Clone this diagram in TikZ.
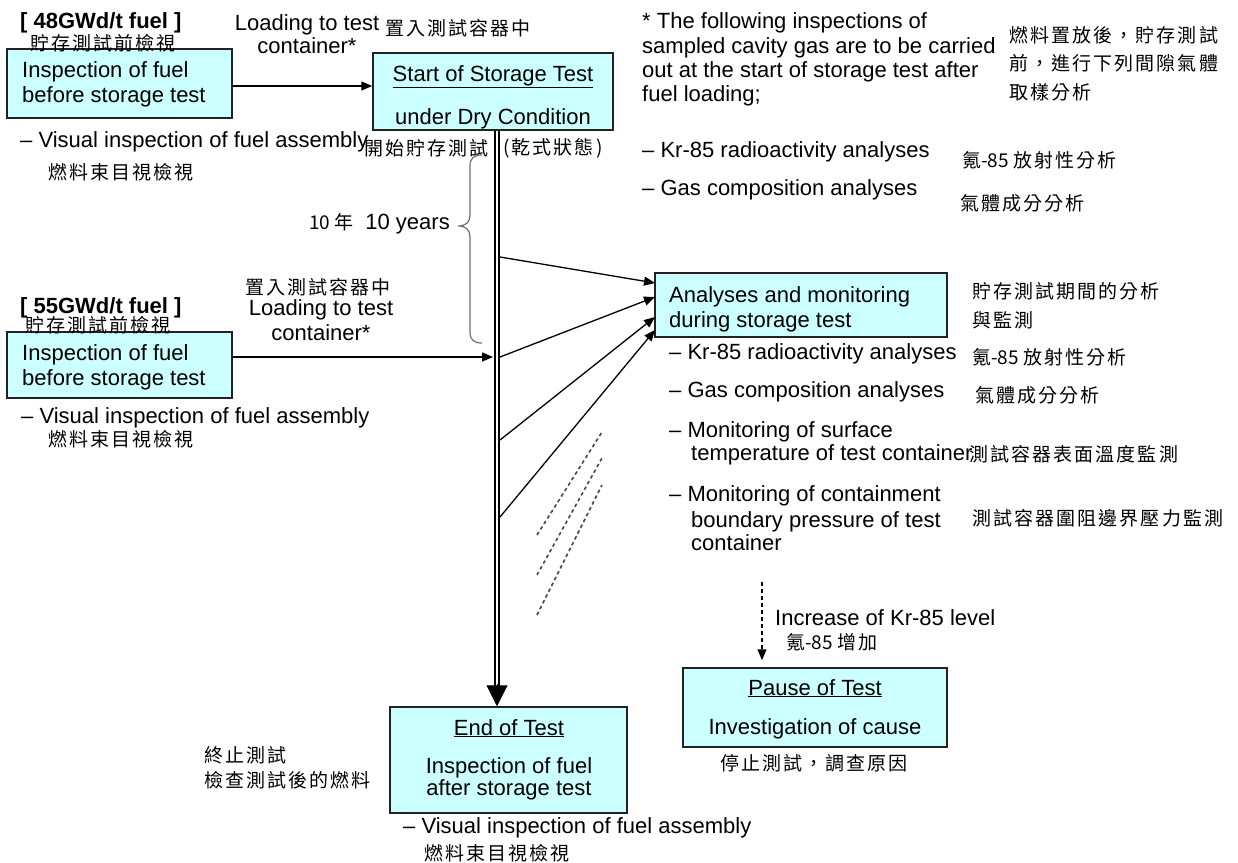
\documentclass[tikz,border=0pt]{standalone}
\usepackage{fontspec}
\setmainfont{Liberation Sans}
\newfontfamily\cjk[LetterSpace=11]{Noto Sans CJK TC}
\newfontfamily\cjkn{Noto Sans CJK TC}
\usetikzlibrary{arrows.meta}
\definecolor{boxfill}{HTML}{CCFFFF}
\definecolor{boxline}{HTML}{222222}
\definecolor{bracegray}{HTML}{707070}
\definecolor{hatchgray}{HTML}{4A4A4A}
\tikzset{
  en/.style={inner sep=0pt, font=\fontsize{22}{25}\selectfont, anchor=base west},
  enc/.style={inner sep=0pt, font=\fontsize{22}{25}\selectfont, anchor=base},
  enb/.style={inner sep=0pt, font=\fontsize{22}{25}\selectfont\bfseries, anchor=base west},
  zh/.style={inner sep=0pt, font=\fontsize{19}{28.5}\selectfont\cjk, anchor=west, align=left},
  flowbox/.style={draw=boxline, line width=1.5pt, fill=boxfill, inner sep=0pt},
  link/.style={line width=1.3pt, -{Triangle[width=9pt,length=11pt]}},
  hatch/.style={hatchgray, line width=1.6pt, dash pattern=on 3.5pt off 3pt},
}
\begin{document}
\begin{tikzpicture}[x=1pt, y=-1pt]
\fill[white] (0,0) rectangle (1238,862);
\useasboundingbox (0,0) rectangle (1238,862);

% ---- boxes ----
\node[flowbox, minimum width=225pt, minimum height=69pt] (insp1) at (119.5,83.5) {};
\node[flowbox, minimum width=240pt, minimum height=77pt] (start) at (493,91.5) {};
\node[flowbox, minimum width=225pt, minimum height=66pt] (insp2) at (119.5,365) {};
\node[flowbox, minimum width=292pt, minimum height=64pt] (ana) at (801,305) {};
\node[flowbox, minimum width=237pt, minimum height=106pt] (endt) at (508.5,760) {};
\node[flowbox, minimum width=264pt, minimum height=79pt] (pause) at (815,707.5) {};

% ---- box texts ----
\node[en] (i1a) at (22,77) {Inspection of fuel};
\node[en] (i1b) at (22,102) {before storage test};
\node[enc] (s1) at (493,81) {\underline{Start of Storage Test}};
\node[enc] (s2) at (493,124) {under Dry Condition};
\node[en] (i2a) at (22,360) {Inspection of fuel};
\node[en] (i2b) at (22,385) {before storage test};
\node[en] (an1) at (669,302) {Analyses and monitoring};
\node[en] (an2) at (669,327) {during storage test};
\node[enc] (e1) at (509,735) {\underline{End of Test}};
\node[enc] (e2) at (509,773) {Inspection of fuel};
\node[enc] (e3) at (509,795) {after storage test};
\node[enc] (p1) at (815,695) {\underline{Pause of Test}};
\node[enc] (p2) at (815,734) {Investigation of cause};

% ---- first fuel group ----
\node[enb] (f48) at (20,28) {[ 48GWd/t fuel ]};
\node[zh] (f48zh) at (30,43) {貯存測試前檢視};
\node[en] (v1) at (20,147) {– Visual inspection of fuel assembly};
\node[zh] (v1zh) at (48,172) {燃料束目視檢視};
\node[enc] (ld1a) at (307,30) {Loading to test};
\node[enc] (ld1b) at (307,53) {container*};
\node[zh] (ld1zh) at (385,28) {置入測試容器中};
\node[zh, anchor=east] (st1zh) at (489,148) {開始貯存測試};
\node[zh] (st2zh) at (503,148) {(乾式狀態)};

% ---- note on cavity gas ----
\node[en] (n1) at (642,28) {* The following inspections of};
\node[en] (n2) at (642,53) {sampled cavity gas are to be carried};
\node[en] (n3) at (642,77) {out at the start of storage test after};
\node[en] (n4) at (642,101) {fuel loading;};
\node[zh] (nzh) at (1009,63.5) {燃料置放後，貯存測試\\前，進行下列間隙氣體\\取樣分析};
\node[en] (g1) at (642,157) {– Kr-85 radioactivity analyses};
\node[zh] (g1zh) at (962,160) {氪{\cjkn -85 }放射性分析};
\node[en] (g2) at (642,195) {– Gas composition analyses};
\node[zh] (g2zh) at (960,203) {氣體成分分析};

% ---- ten years span ----
\node[en, anchor=base east] (yrs) at (450,229) {{\cjkn\fontsize{19}{20}\selectfont 10 年}\hspace{12pt}10 years};
\draw[bracegray, line width=1.2pt]
  (482,155) .. controls (474,155) and (470,158) .. (470,166) -- (470,215)
  .. controls (470,222) and (466,226) .. (458,226)
  .. controls (466,226) and (470,230) .. (470,237) -- (470,332)
  .. controls (470,340) and (474,343) .. (482,343);

% ---- second fuel group ----
\node[zh] (ld2zh) at (245,287) {置入測試容器中};
\node[enc] (ld2a) at (321,315) {Loading to test};
\node[enc] (ld2b) at (321,340) {container*};
\node[enb] (f55) at (20,313) {[ 55GWd/t fuel ]};
\node[zh] (f55zh) at (25,325) {貯存測試前檢視};
\node[en] (v2) at (21,423) {– Visual inspection of fuel assembly};
\node[zh] (v2zh) at (48,439) {燃料束目視檢視};

% ---- monitoring items ----
\node[zh] (anzh) at (972,306) {貯存測試期間的分析\\與監測};
\node[en] (k1) at (669,359) {– Kr-85 radioactivity analyses};
\node[zh] (k1zh) at (972,357) {氪{\cjkn -85 }放射性分析};
\node[en] (k2) at (669,397) {– Gas composition analyses};
\node[zh] (k2zh) at (975,395) {氣體成分分析};
\node[en] (k3a) at (669,437) {– Monitoring of surface};
\node[en] (k3b) at (691,460) {temperature of test container};
\node[zh] (k3zh) at (969,454) {測試容器表面溫度監測};
\node[en] (k4a) at (669,501) {– Monitoring of containment};
\node[en] (k4b) at (691,527) {boundary pressure of test};
\node[en] (k4c) at (691,550) {container};
\node[zh] (k4zh) at (972,518) {測試容器圍阻邊界壓力監測};

% ---- pause branch ----
\node[en] (inc) at (775,625) {Increase of Kr-85 level};
\node[zh] (inczh) at (786,642) {氪{\cjkn -85 }增加};
\node[zh] (pzh) at (720,763) {停止測試，調查原因};

% ---- end of test ----
\node[zh] (ezh1) at (204,755) {終止測試};
\node[zh] (ezh2) at (204,780) {檢查測試後的燃料};
\node[en] (v3) at (403,833) {– Visual inspection of fuel assembly};
\node[zh] (v3zh) at (424,853) {燃料束目視檢視};

% ---- connectors ----
\coordinate (l1) at (0,86);
\draw[link] (insp1.east |- l1) -- (start.west |- l1);
\coordinate (l2) at (493,357);
\draw[link] (insp2.east |- l2) -- (l2);

\coordinate (mtop) at (497,130);
\coordinate (mhead) at (497,684);
\draw[line width=2.2pt, double=white, double distance=2.2pt] (start.south -| mtop) -- (497,690);
\draw[line width=1pt, -{Triangle[width=21pt,length=21pt]}] (mhead) -- (endt.north -| mtop);

\coordinate (m1) at (500,257);
\coordinate (m2) at (500,357);
\coordinate (m3) at (500,440);
\coordinate (m4) at (500,517);
\coordinate (a1) at (655,283);
\coordinate (a2) at (655,297);
\coordinate (a3) at (655,317);
\coordinate (a4) at (655,330);
\draw[link] (m1) -- (a1);
\draw[link] (m2) -- (a2);
\draw[link] (m3) -- (a3);
\draw[link] (m4) -- (a4);

\draw[hatch] (537,535) -- (602,432);
\draw[hatch] (537,575) -- (602,458);
\draw[hatch] (537,615) -- (602,485);

\coordinate (kr) at (762,582);
\draw[link, line width=1.2pt, dash pattern=on 4pt off 3pt, shorten >=7pt] (kr) -- (pause.north -| kr);
\end{tikzpicture}
\end{document}
